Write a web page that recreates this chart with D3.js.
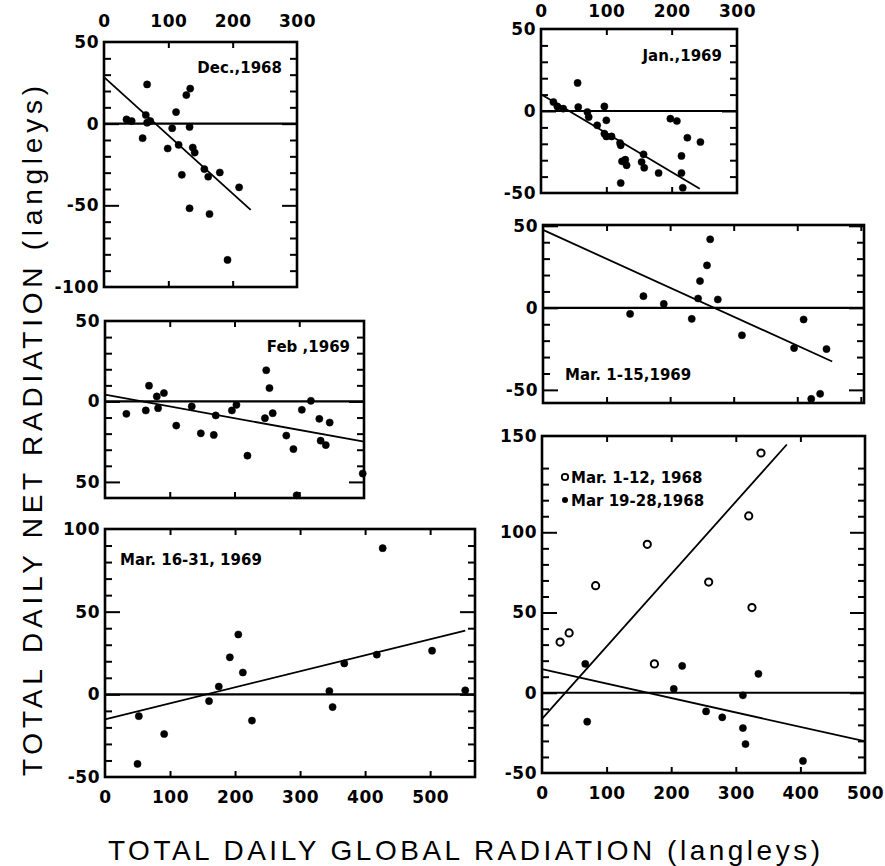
<!DOCTYPE html>
<html><head><meta charset="utf-8">
<script src="https://cdn.jsdelivr.net/npm/d3@7"></script>
<style>body{margin:0;background:#fff}svg{display:block}</style>
</head><body>
<svg id="c" width="885" height="866"></svg>
<script>
// ---------------- DATA ----------------
// [global radiation, net radiation] in langleys
const decPoints = [[35,2.6],[43,1.6],[60,-8.9],[67,24],[65,5.3],[67,0.6],[72,1.6],[99,-15.2],[106,-2.8],[112,7.1],[116,-13],[121,-31.3],[128,17.5],[134,21.5],[133,-2],[133,-51.8],[138,-14.6],[141,-17.7],[156,-27.8],[162,-32.5],[164,-55.3],[180,-29.9],[192,-83.4],[210,-39]];
const decLine = [[0,28.5],[228,-52.8]];

const janPoints = [[19,5.5],[25,2.8],[34,1.4],[56,17.1],[57,2.4],[71,-0.6],[73,-3.7],[86,-8.7],[97,2.8],[100,-5.7],[97,-13.8],[100,-15.5],[108,-15.5],[121,-19.5],[122,-20.9],[124,-30.7],[129,-29.7],[131,-33.1],[122,-43.9],[157,-26.4],[154,-31.1],[158,-34.6],[180,-37.8],[198,-4.7],[208,-6.1],[224,-16.3],[215,-27.4],[215,-37.8],[217,-46.8],[244,-18.9]];
const janLine = [[0,10.2],[243,-47.4]];

const febPoints = [[33,-7.7],[63,-5.6],[68,9.8],[80,3.1],[82,-4.2],[91,5.2],[110,-15],[134,-3.1],[148,-19.8],[168,-20.8],[171,-8.7],[196,-5.6],[203,-2.1],[220,-33.7],[249,19.4],[254,8.3],[247,-10.4],[259,-7.3],[280,-21.2],[291,-29.6],[296,-58.3],[304,-5.2],[318,0.4],[331,-10.8],[333,-24.4],[341,-27.1],[347,-13.1],[398,-44.8]];
const febLine = [[0,4.2],[400,-25]];

const mar69aPoints = [[137,-3.7],[158,7.1],[190,2.4],[234,-6.7],[244,5.7],[247,16.3],[258,25.9],[263,41.8],[275,5.1],[313,-16.7],[395,-24.5],[410,-7.1],[422,-55.5],[436,-52.4],[446,-25.1]];
const mar69aLine = [[0,47.5],[455,-32.7]];

const mar69bPoints = [[52,-13.2],[50,-42.1],[91,-24],[160,-4.1],[175,4.7],[192,22.4],[205,36.2],[212,13.2],[226,-15.9],[345,2],[350,-7.7],[368,18.7],[418,24],[427,88.4],[503,26.4],[554,2.4]];
const mar69bLine = [[0,-15.2],[554,38.6]];

const mar68OpenPoints = [[28,31.6],[42,37.3],[83,66.7],[163,92.5],[174,18],[258,69],[320,110.2],[325,53.1],[339,149.4]];
const mar68OpenLine = [[0,-16.3],[379,154.7]];
const mar68FilledPoints = [[67,18],[70,-18],[204,2.4],[217,16.7],[254,-11.6],[279,-15.3],[311,-1.6],[311,-22],[315,-32],[335,11.8],[404,-42.5]];
const mar68FilledLine = [[0,14.7],[499,-30.2]];

// tick values and labels
const decYTicks = [50,0,-50,-100];
const decYLabels = ["50","0","-50","-100"];
const janYTicks = [50,0,-50];
const janYLabels = ["50","0","-50"];
const febYTicks = [50,0,-50];
const febYLabels = ["50","0","50"];
const mar69aYTicks = [50,0,-50];
const mar69aYLabels = ["50","0","-50"];
const mar69bYTicks = [100,50,0,-50];
const mar69bYLabels = ["100","50","0","-50"];
const mar68YTicks = [160,100,50,0,-50];
const mar68YLabels = ["150","100","50","0","-50"];
const topXTicks = [0,100,200,300];
const topXLabels = ["0","100","200","300"];
const bottomXTicks = [0,100,200,300,400,500];
const bottomXLabels = ["0","100","200","300","400","500"];

const titles = {
  dec: "Dec.,1968", jan: "Jan.,1969", feb: "Feb ,1969",
  mar69a: "Mar. 1-15,1969", mar69b: "Mar. 16-31, 1969"
};
const legendLabels = ["Mar. 1-12, 1968", "Mar 19-28,1968"];
const yTitle = "TOTAL DAILY NET RADIATION (langleys)";
const xTitle = "TOTAL DAILY GLOBAL RADIATION (langleys)";

// ---------------- LAYOUT ----------------
const svg = d3.select("#c");
const LABEL_FONT = "'DejaVu Sans', sans-serif";

const panels = [
  {box:{l:104,r:297,t:42,b:287}, xDomain:[0,300], yDomain:[-100,50], yTicks:decYTicks, yLabels:decYLabels,
   xLab:{pos:"top", ticks:topXTicks, labels:topXLabels, pad:15},
   series:[{pts:decPoints, line:decLine, open:false}], title:{text:titles.dec, x:282, y:73, anchor:"end"}},
  {box:{l:541,r:737,t:29,b:193}, xDomain:[0,300], yDomain:[-50,50], yTicks:janYTicks, yLabels:janYLabels,
   xLab:{pos:"top", ticks:topXTicks, labels:topXLabels, pad:12},
   series:[{pts:janPoints, line:janLine, open:false}], title:{text:titles.jan, x:722, y:61, anchor:"end"}},
  {box:{l:105,r:364,t:321,b:498}, xDomain:[0,400], yDomain:[-60,50], yTicks:febYTicks, yLabels:febYLabels,
   xLab:null,
   series:[{pts:febPoints, line:febLine, open:false}], title:{text:titles.feb, x:350, y:352, anchor:"end"}},
  {box:{l:543,r:864,t:225,b:403}, xDomain:[0,505], yDomain:[-58,50.5], yTicks:mar69aYTicks, yLabels:mar69aYLabels,
   xLab:null,
   series:[{pts:mar69aPoints, line:mar69aLine, open:false}], title:{text:titles.mar69a, x:565, y:380, anchor:"start"}},
  {box:{l:105,r:475,t:529,b:777}, xDomain:[0,569], yDomain:[-50,100], yTicks:mar69bYTicks, yLabels:mar69bYLabels,
   xLab:{pos:"bottom", ticks:bottomXTicks, labels:bottomXLabels, pad:14},
   series:[{pts:mar69bPoints, line:mar69bLine, open:false}], title:{text:titles.mar69b, x:120, y:565, anchor:"start"}},
  {box:{l:542,r:865,t:436,b:773}, xDomain:[0,500], yDomain:[-50,160], yTicks:mar68YTicks, yLabels:mar68YLabels,
   xLab:{pos:"bottom", ticks:bottomXTicks, labels:bottomXLabels, pad:14},
   series:[{pts:mar68OpenPoints, line:mar68OpenLine, open:true},{pts:mar68FilledPoints, line:mar68FilledLine, open:false}],
   title:null, legend:{x:565, y:477}}
];

function styleAxis(sel){
  sel.select(".domain").remove();
  sel.selectAll(".tick line").attr("stroke","#000").attr("stroke-width",2);
  sel.selectAll(".tick text").attr("font-family",LABEL_FONT).attr("font-weight","bold")
     .attr("font-size","17px").attr("letter-spacing","0.5px").attr("fill","#000");
}

panels.forEach(p => {
  const b = p.box;
  const x = d3.scaleLinear().domain(p.xDomain).range([b.l,b.r]);
  const y = d3.scaleLinear().domain(p.yDomain).range([b.b,b.t]);
  const g = svg.append("g");

  // minor y ticks every 10, inside, both sides
  const minor = d3.range(Math.ceil(p.yDomain[0]/10)*10, p.yDomain[1], 10)
    .filter(v => v % 50 !== 0 && v > p.yDomain[0] && v < p.yDomain[1]);
  const majorInner = p.yTicks.filter(v => v > p.yDomain[0] && v < p.yDomain[1]);

  g.append("g").attr("transform",`translate(${b.l},0)`)
    .call(d3.axisLeft(y).tickValues(minor).tickSize(-7).tickFormat("")).call(styleAxis);
  g.append("g").attr("transform",`translate(${b.r},0)`)
    .call(d3.axisRight(y).tickValues(minor).tickSize(-7).tickFormat("")).call(styleAxis);
  g.append("g").attr("transform",`translate(${b.r},0)`)
    .call(d3.axisRight(y).tickValues(majorInner).tickSize(-15).tickFormat("")).call(styleAxis);
  // major left with labels
  const lab = new Map(p.yTicks.map((v,i)=>[v,p.yLabels[i]]));
  const la = g.append("g").attr("transform",`translate(${b.l},0)`)
    .call(d3.axisLeft(y).tickValues(p.yTicks).tickSize(-15).tickPadding(5).tickFormat(v => lab.get(v)));
  styleAxis(la);
  la.selectAll(".tick line").attr("stroke-width", v => (v===p.yDomain[0]||v===p.yDomain[1]) ? 0 : 2);

  // x ticks every 100 (inside) top and bottom
  const xt = d3.range(100, p.xDomain[1]-1, 100);
  g.append("g").attr("transform",`translate(0,${b.b})`)
    .call(d3.axisBottom(x).tickValues(xt).tickSize(-6).tickFormat("")).call(styleAxis);
  g.append("g").attr("transform",`translate(0,${b.t})`)
    .call(d3.axisTop(x).tickValues(xt).tickSize(-6).tickFormat("")).call(styleAxis);
  if (p.xLab) {
    const xl = new Map(p.xLab.ticks.map((v,i)=>[v,p.xLab.labels[i]]));
    const ax = p.xLab.pos === "top" ? d3.axisTop(x) : d3.axisBottom(x);
    const xa = g.append("g").attr("transform",`translate(0,${p.xLab.pos==="top"?b.t:b.b})`)
      .call(ax.tickValues(p.xLab.ticks).tickSize(0).tickPadding(p.xLab.pad).tickFormat(v => xl.get(v)));
    styleAxis(xa);
  }

  // zero line
  g.append("line").attr("x1",b.l).attr("x2",b.r).attr("y1",y(0)).attr("y2",y(0))
    .attr("stroke","#000").attr("stroke-width",2.2);

  // frame
  g.append("rect").attr("x",b.l).attr("y",b.t).attr("width",b.r-b.l).attr("height",b.b-b.t)
    .attr("fill","none").attr("stroke","#000").attr("stroke-width",2.6);

  // series
  p.series.forEach(s => {
    g.append("path").datum(s.line)
      .attr("d", d3.line().x(d=>x(d[0])).y(d=>y(d[1])))
      .attr("fill","none").attr("stroke","#000").attr("stroke-width",1.8);
    g.selectAll(null).data(s.pts).enter().append("circle")
      .attr("cx",d=>x(d[0])).attr("cy",d=>y(d[1]))
      .attr("r", 3.6)
      .attr("fill", s.open ? "#fff" : "#000")
      .attr("stroke","#000").attr("stroke-width", s.open ? 2 : 0.5);
  });

  if (p.title) {
    g.append("text").attr("x",p.title.x).attr("y",p.title.y).attr("text-anchor",p.title.anchor)
      .attr("font-family",LABEL_FONT).attr("font-weight","bold").attr("font-size","15px")
      .text(p.title.text);
  }
  if (p.legend) {
    const L = p.legend;
    g.append("circle").attr("cx",L.x).attr("cy",L.y).attr("r",3.2)
      .attr("fill","#fff").attr("stroke","#000").attr("stroke-width",1.8);
    g.append("circle").attr("cx",L.x).attr("cy",L.y+23).attr("r",3)
      .attr("fill","#000");
    legendLabels.forEach((t,i) => {
      g.append("text").attr("x",L.x+6).attr("y",L.y+6+i*23)
        .attr("font-family",LABEL_FONT).attr("font-weight","bold").attr("font-size","15px")
        .text(t);
    });
  }
});

// axis titles
svg.append("text")
  .attr("transform","translate(464,860)")
  .attr("text-anchor","middle")
  .attr("font-family","'Liberation Sans', Arial, sans-serif")
  .attr("font-size","28px")
  .attr("textLength",712).attr("lengthAdjust","spacing")
  .text(xTitle);

svg.append("text")
  .attr("transform","translate(42,431) rotate(-90)")
  .attr("text-anchor","middle")
  .attr("font-family","'Liberation Sans', Arial, sans-serif")
  .attr("font-size","28px")
  .attr("textLength",690).attr("lengthAdjust","spacing")
  .text(yTitle);
</script>
</body></html>
